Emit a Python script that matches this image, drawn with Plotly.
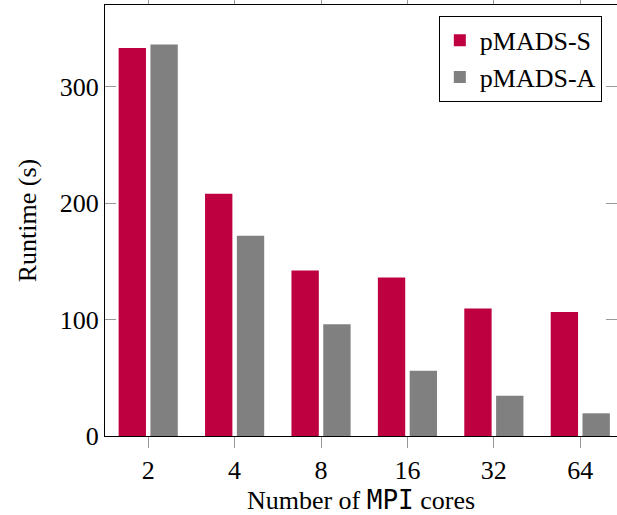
import plotly.graph_objects as go

cores = ["2", "4", "8", "16", "32", "64"]
pmads_s = [333, 208, 142, 136, 109.5, 106.5]
pmads_a = [336, 172, 96, 56, 34.5, 19.5]

RED = "#BF0040"
GREY = "#808080"
FONT = "Liberation Serif"
FS = 26

fig = go.Figure()
fig.add_trace(go.Bar(x=cores, y=pmads_s, name="pMADS-S", marker=dict(color=RED, line=dict(width=0))))
fig.add_trace(go.Bar(x=cores, y=pmads_a, name="pMADS-A", marker=dict(color=GREY, line=dict(width=0))))
# invisible trace on secondary axis for right-side inside ticks
fig.add_trace(go.Scatter(x=[cores[0]], y=[0], yaxis="y2", mode="markers",
                         marker=dict(opacity=0), showlegend=False, hoverinfo="skip"))

xtitle = ("<span style=\"font-family:'Liberation Serif'\">Number of </span>"
          "<span style=\"font-family:'DejaVu Sans Mono'\">MPI</span>"
          "<span style=\"font-family:'Liberation Serif'\"> cores</span>")

fig.update_layout(
    width=617, height=515,
    margin=dict(l=105, r=0, t=5, b=79),
    paper_bgcolor="white", plot_bgcolor="white",
    font=dict(family=FONT, size=FS, color="black"),
    barmode="group", bargap=0.264, bargroupgap=0.14,
    showlegend=True,
    legend=dict(x=0.652, y=0.975, xanchor="left", yanchor="top",
                bordercolor="black", borderwidth=1, bgcolor="white",
                font=dict(family=FONT, size=FS)),
    xaxis=dict(type="category", range=[-0.5, 5.425], automargin=False,
               showline=True, linecolor="black", linewidth=1.2, mirror="ticks",
               ticks="outside", ticklen=11, tickcolor="#999999", tickwidth=1,
               showgrid=False, zeroline=False,
               title=dict(text=xtitle, standoff=10, font=dict(size=FS))),
    yaxis=dict(range=[0, 370], tickvals=[0, 100, 200, 300], automargin=False,
               showline=True, linecolor="black", linewidth=1.2,
               ticks="inside", ticklen=11, tickcolor="#999999", tickwidth=1,
               showgrid=False, zeroline=False,
               title=dict(text="Runtime (s)", standoff=15, font=dict(size=FS))),
    yaxis2=dict(overlaying="y", side="right", range=[0, 370], tickvals=[0, 100, 200, 300],
                showticklabels=False, ticks="inside", ticklen=11, tickcolor="#999999",
                showline=False, showgrid=False, zeroline=False, automargin=False),
)

fig.write_html("out.html")
